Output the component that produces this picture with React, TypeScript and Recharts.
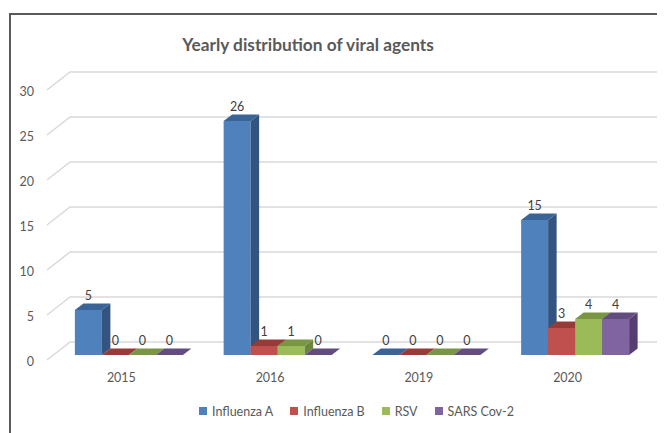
import React from 'react';
import { BarChart, Bar, XAxis, YAxis, CartesianGrid, Legend, LabelList } from 'recharts';

const years = ['2015', '2016', '2019', '2020'];
const influenzaA = [5, 26, 0, 15];
const influenzaB = [0, 1, 0, 3];
const rsv = [0, 1, 0, 4];
const sarsCov2 = [0, 0, 0, 4];
const yTicks = [0, 5, 10, 15, 20, 25, 30];
const seriesNames = ['Influenza A', 'Influenza B', 'RSV', 'SARS Cov-2'];
const seriesKeys = ['a', 'b', 'c', 'd'];
const palette = [
  { front: '#4F81BD', top: '#3B6496', side: '#32547F' },
  { front: '#C0504D', top: '#963B38', side: '#853432' },
  { front: '#9BBB59', top: '#7A9645', side: '#6C853C' },
  { front: '#8064A2', top: '#634D7F', side: '#563F70' },
];

const data = years.map((year, i) => ({
  year,
  a: influenzaA[i],
  b: influenzaB[i],
  c: rsv[i],
  d: sarsCov2[i],
}));

const FONT = 'Lato, "Open Sans", sans-serif';
const SHIFT_X = 7.5;
const SHIFT_Y = 5;
const DX = 8.5;
const DY = 6.5;
const GRID_DX = 23;
const GRID_DY = 18;
const W = 657;
const H = 425;
const LEGEND_H = 16;

const make3D = (c: { front: string; top: string; side: string }) => (props: any) => {
  const { x, y, width, height } = props;
  const fx = x + SHIFT_X;
  const fy = y - SHIFT_Y;
  const h = Math.max(0, height || 0);
  const w = width;
  const bottom = fy + h;
  return (
    <g>
      {h > 0 && <rect x={fx} y={fy} width={w} height={h} fill={c.front} />}
      {h > 0 && (
        <path
          d={`M${fx + w},${fy} L${fx + w + DX},${fy - DY} L${fx + w + DX},${bottom - DY} L${fx + w},${bottom} Z`}
          fill={c.side}
        />
      )}
      <path
        d={`M${fx},${fy} L${fx + DX},${fy - DY} L${fx + w + DX},${fy - DY} L${fx + w},${fy} Z`}
        fill={c.top}
      />
    </g>
  );
};

const valueLabel = (props: any) => {
  const { x, y, width, value } = props;
  return (
    <text
      x={x + SHIFT_X + width / 2}
      y={y - SHIFT_Y - DY - 4}
      textAnchor="middle"
      fontFamily={FONT}
      fontSize={12.5}
      fill="#404040"
    >
      {value}
    </text>
  );
};

const gridLine = (props: any) => {
  const { x1, y1 } = props;
  return (
    <path
      key={`g-${y1}`}
      d={`M${x1},${y1} L${x1 + GRID_DX},${y1 - GRID_DY} L${W},${y1 - GRID_DY}`}
      stroke="#D9D9D9"
      strokeWidth={1.5}
      fill="none"
    />
  );
};

const YTick = (props: any) => {
  const { x, y, payload } = props;
  return (
    <text x={x - 13} y={y + 6} textAnchor="end" fontFamily={FONT} fontSize={12.5} fill="#595959">
      {payload.value}
    </text>
  );
};

const XTick = (props: any) => {
  const { x, y, payload } = props;
  return (
    <text x={x} y={y + 22} textAnchor="middle" fontFamily={FONT} fontSize={12.5} fill="#595959">
      {payload.value}
    </text>
  );
};

const LegendContent = () => (
  <div
    style={{
      display: 'flex',
      alignItems: 'center',
      paddingLeft: 191,
      fontFamily: FONT,
      fontSize: 12.5,
      color: '#595959',
      height: LEGEND_H,
    }}
  >
    {seriesNames.map((name, i) => (
      <div key={name} style={{ display: 'flex', alignItems: 'center', marginRight: 17 }}>
        <span style={{ width: 8, height: 8, background: palette[i].front, marginRight: 5, display: 'inline-block' }} />
        <span>{name}</span>
      </div>
    ))}
  </div>
);

export default function App() {
  return (
    <div style={{ position: 'relative', width: W, height: H, overflow: 'hidden', background: '#fff' }}>
      <div
        style={{
          position: 'absolute',
          left: 1,
          top: 5,
          width: 800,
          height: 600,
          border: '2px solid #5A5A5A',
          boxSizing: 'border-box',
        }}
      />
      <div style={{ position: 'absolute', left: 0, top: 0 }}>
        <BarChart
          width={W}
          height={H}
          data={data}
          margin={{ top: 82, right: 23, bottom: 43 - LEGEND_H, left: 9 }}
          barCategoryGap="13.7%"
          barGap={0}
        >
          <text x={300} y={43} textAnchor="middle" fontFamily={FONT} fontSize={17.3} fontWeight="bold" fill="#595959">
            Yearly distribution of viral agents
          </text>
          <CartesianGrid vertical={false} horizontal={gridLine} />
          <XAxis
            dataKey="year"
            axisLine={false}
            tickLine={false}
            tickSize={0}
            tickMargin={0}
            height={30}
            tick={<XTick />}
          />
          <YAxis
            domain={[0, 30]}
            ticks={yTicks}
            axisLine={false}
            tickLine={false}
            tickSize={0}
            tickMargin={0}
            width={30}
            tick={<YTick />}
          />
          <Legend
            content={<LegendContent />}
            wrapperStyle={{ position: 'absolute', left: 0, top: 395, width: W }}
          />
          {seriesKeys.map((k, i) => (
            <Bar
              key={k}
              dataKey={k}
              name={seriesNames[i]}
              fill={palette[i].front}
              shape={make3D(palette[i])}
              isAnimationActive={false}
            >
              <LabelList dataKey={k} content={valueLabel} />
            </Bar>
          ))}
        </BarChart>
      </div>
    </div>
  );
}
